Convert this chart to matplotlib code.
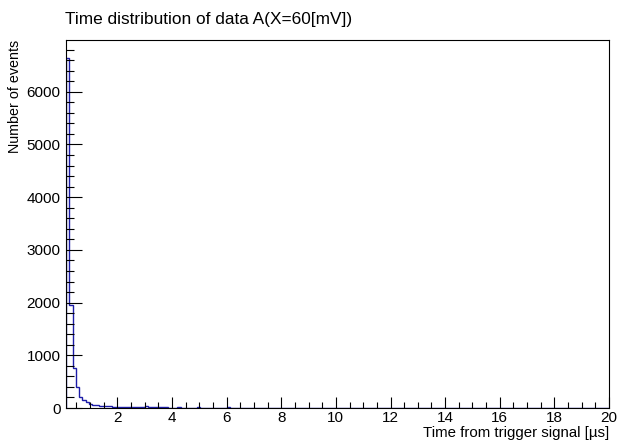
import numpy as np
import matplotlib
matplotlib.use("Agg")
import matplotlib.pyplot as plt
from matplotlib.ticker import MultipleLocator

plt.rcParams['font.family'] = ['Liberation Sans', 'DejaVu Sans']
plt.rcParams['xtick.direction'] = 'in'
plt.rcParams['ytick.direction'] = 'in'

# Histogram binning (time in microseconds)
x_min = 0.12
bin_width = 0.12
# Counts per bin, first bins carry most events, then a long tail
counts_head = [6650, 1950, 760, 400, 210, 150, 110, 85, 65, 55, 45, 40, 35,
               30, 28, 25, 22, 20, 20, 18, 16, 15, 15, 14, 30, 14, 12, 12,
               11, 10, 10, 9, 9, 8, 25, 8, 7, 7, 6, 6, 20, 6, 5, 5, 5, 5,
               4, 4, 4, 12, 4, 3, 3, 3, 3, 3, 3, 3, 3, 3]
counts_tail = [2, 3, 2, 2, 2, 3, 2, 2, 2, 2, 2, 2, 2, 2, 2, 2, 8, 2, 2, 2,
               2, 2, 2, 2, 2, 2, 2, 2, 2, 2, 1, 2, 1, 2, 1, 2, 1, 1, 1, 2,
               1, 1, 1, 1, 1, 1, 1, 1, 1, 1, 1, 1, 1, 1, 1, 1, 1, 1, 1, 1,
               1, 1, 1, 1, 1, 1, 1, 1, 1, 1, 1, 1, 1, 1, 1, 1, 1, 1, 1, 1,
               1, 1, 1, 1, 1, 1, 1, 1, 1, 1, 1, 1, 1, 1, 1, 1, 1, 1, 1, 1,
               1, 1, 1, 1, 1, 1]
counts = np.array(counts_head + counts_tail, dtype=float)
edges = x_min + bin_width * np.arange(len(counts) + 1)

title = "Time distribution of data A(X=60[mV])"
xlabel = "Time from trigger signal [\u00b5s]"
ylabel = "Number of events"

fig = plt.figure(figsize=(6.19, 4.41), dpi=100)
ax = fig.add_axes([0.1066, 0.0748, 0.8773, 0.8345])

ax.stairs(counts, edges, color="#1c1ca8", linewidth=1.0)

ax.set_xlim(x_min, 20)
ax.set_ylim(0, counts.max() * 1.05)

ax.xaxis.set_major_locator(MultipleLocator(2))
ax.xaxis.set_minor_locator(MultipleLocator(0.5))
ax.yaxis.set_major_locator(MultipleLocator(1000))
ax.yaxis.set_minor_locator(MultipleLocator(200))

ax.tick_params(which='both', direction='in', top=False, right=False,
               width=0.8, color='black')
ax.tick_params(axis='x', which='major', length=8, labelsize=11, pad=2)
ax.tick_params(axis='x', which='minor', length=4)
ax.tick_params(axis='y', which='major', length=11.5, labelsize=11, pad=4)
ax.tick_params(axis='y', which='minor', length=5.8)

for s in ax.spines.values():
    s.set_linewidth(0.8)

fig.text(0.105, 0.955, title, fontsize=12.4, ha='left', va='center')
fig.text(0.984, 0.018, xlabel, fontsize=10.8, ha='right', va='center')
fig.text(0.025, 0.909, ylabel, fontsize=10.3, ha='center', va='top',
         rotation=90)

fig.savefig("out.png", dpi=100)
